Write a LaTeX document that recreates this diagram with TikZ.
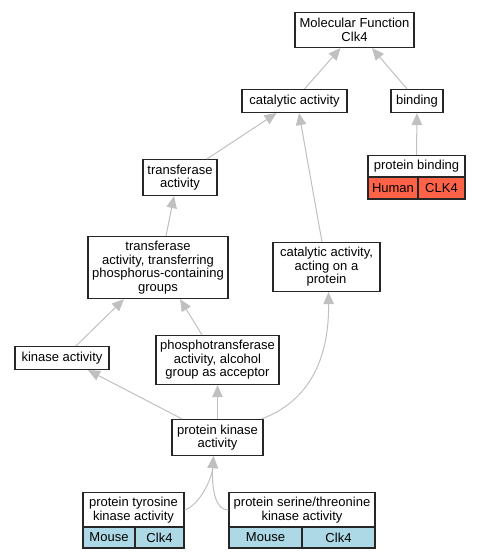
\documentclass[tikz,border=0pt]{standalone}
\usepackage{fontspec}
\setmainfont{Liberation Sans}
\usetikzlibrary{arrows.meta}
\definecolor{edgec}{RGB}{192,192,192}
\definecolor{humanc}{RGB}{255,99,71}
\definecolor{mousec}{RGB}{173,216,230}
\begin{document}
\begin{tikzpicture}[x=1pt,y=-1pt,
  font=\fontsize{13}{13.5}\selectfont,
  box/.style={draw=black!85, line width=1.2pt, fill=white, align=center, inner sep=0pt},
  cell/.style={draw=black!85, line width=1.2pt, align=center, inner sep=0pt},
  edge/.style={draw=edgec, line width=1pt, -{Triangle[length=12pt,width=10.5pt,fill=edgec]}}]
\useasboundingbox (0,0) rectangle (480,560);

\node[box, minimum width=119, minimum height=35] (mf) at (354.5,30) {Molecular Function\\Clk4};
\node[box, minimum width=105, minimum height=23] (cat) at (294.5,101) {catalytic activity};
\node[box, minimum width=52, minimum height=23] (bind) at (417,101) {binding};
\node[box, minimum width=97, minimum height=22] (pb) at (416.5,166.5) {protein binding};
\node[cell, fill=humanc, minimum width=50, minimum height=22] (pbh) at (393,188) {Human};
\node[cell, fill=humanc, minimum width=47, minimum height=22] (pbc) at (441.5,188) {CLK4};
\node[box, minimum width=74, minimum height=36] (tr) at (180,177.5) {transferase\\activity};
\node[box, minimum width=140, minimum height=62] (trp) at (158,267.5) {transferase\\activity, transferring\\phosphorus-containing\\groups};
\node[box, minimum width=107, minimum height=49] (cap) at (326.5,267) {catalytic activity,\\acting on a\\protein};
\node[box, minimum width=94, minimum height=23] (kin) at (62,358) {kinase activity};
\node[box, minimum width=123, minimum height=49] (pho) at (217.5,360) {phosphotransferase\\activity, alcohol\\group as acceptor};
\node[box, minimum width=91, minimum height=36] (pk) at (217.5,437.5) {protein kinase\\activity};
\node[box, minimum width=101, minimum height=35] (ty) at (133.5,510) {protein tyrosine\\kinase activity};
\node[cell, fill=mousec, minimum width=52, minimum height=21] (tym) at (109,537.5) {Mouse};
\node[cell, fill=mousec, minimum width=49, minimum height=21] (tyc) at (159.5,537.5) {Clk4};
\node[box, minimum width=146, minimum height=35] (st) at (302,510) {protein serine/threonine\\kinase activity};
\node[cell, fill=mousec, minimum width=73, minimum height=21] (stm) at (265.5,537.5) {Mouse};
\node[cell, fill=mousec, minimum width=73, minimum height=21] (stc) at (338.5,537.5) {Clk4};

\draw[edge] ([xshift=10]cat.north) -- ([xshift=-14]mf.south);
\draw[edge] ([xshift=-10]bind.north) -- ([xshift=17.5]mf.south);
\draw[edge] (pb.north) -- (bind.south);
\draw[edge] ([xshift=27]tr.north) -- ([xshift=-18]cat.south);
\draw[edge] ([xshift=-4.5]cap.north) -- ([xshift=4.5]cat.south);
\draw[edge] ([xshift=8]trp.north) -- ([xshift=-6]tr.south);
\draw[edge] ([xshift=14]kin.north) -- ([xshift=-34]trp.south);
\draw[edge] ([xshift=-15.5]pho.north) -- ([xshift=22]trp.south);
\draw[edge] ([xshift=-35.5]pk.north) -- ([xshift=26]kin.south);
\draw[edge] (pk.north) -- (pho.south);
\draw[edge] ([xshift=44]pk.north) .. controls (318,398) and (329,345) .. ([xshift=2]cap.south);
\draw[edge] (ty.east) .. controls (200,505) and (212,478) .. ([xshift=-4]pk.south);
\draw[edge] (st.west) .. controls (212,510) and (212,478) .. ([xshift=-4]pk.south);
\end{tikzpicture}
\end{document}
